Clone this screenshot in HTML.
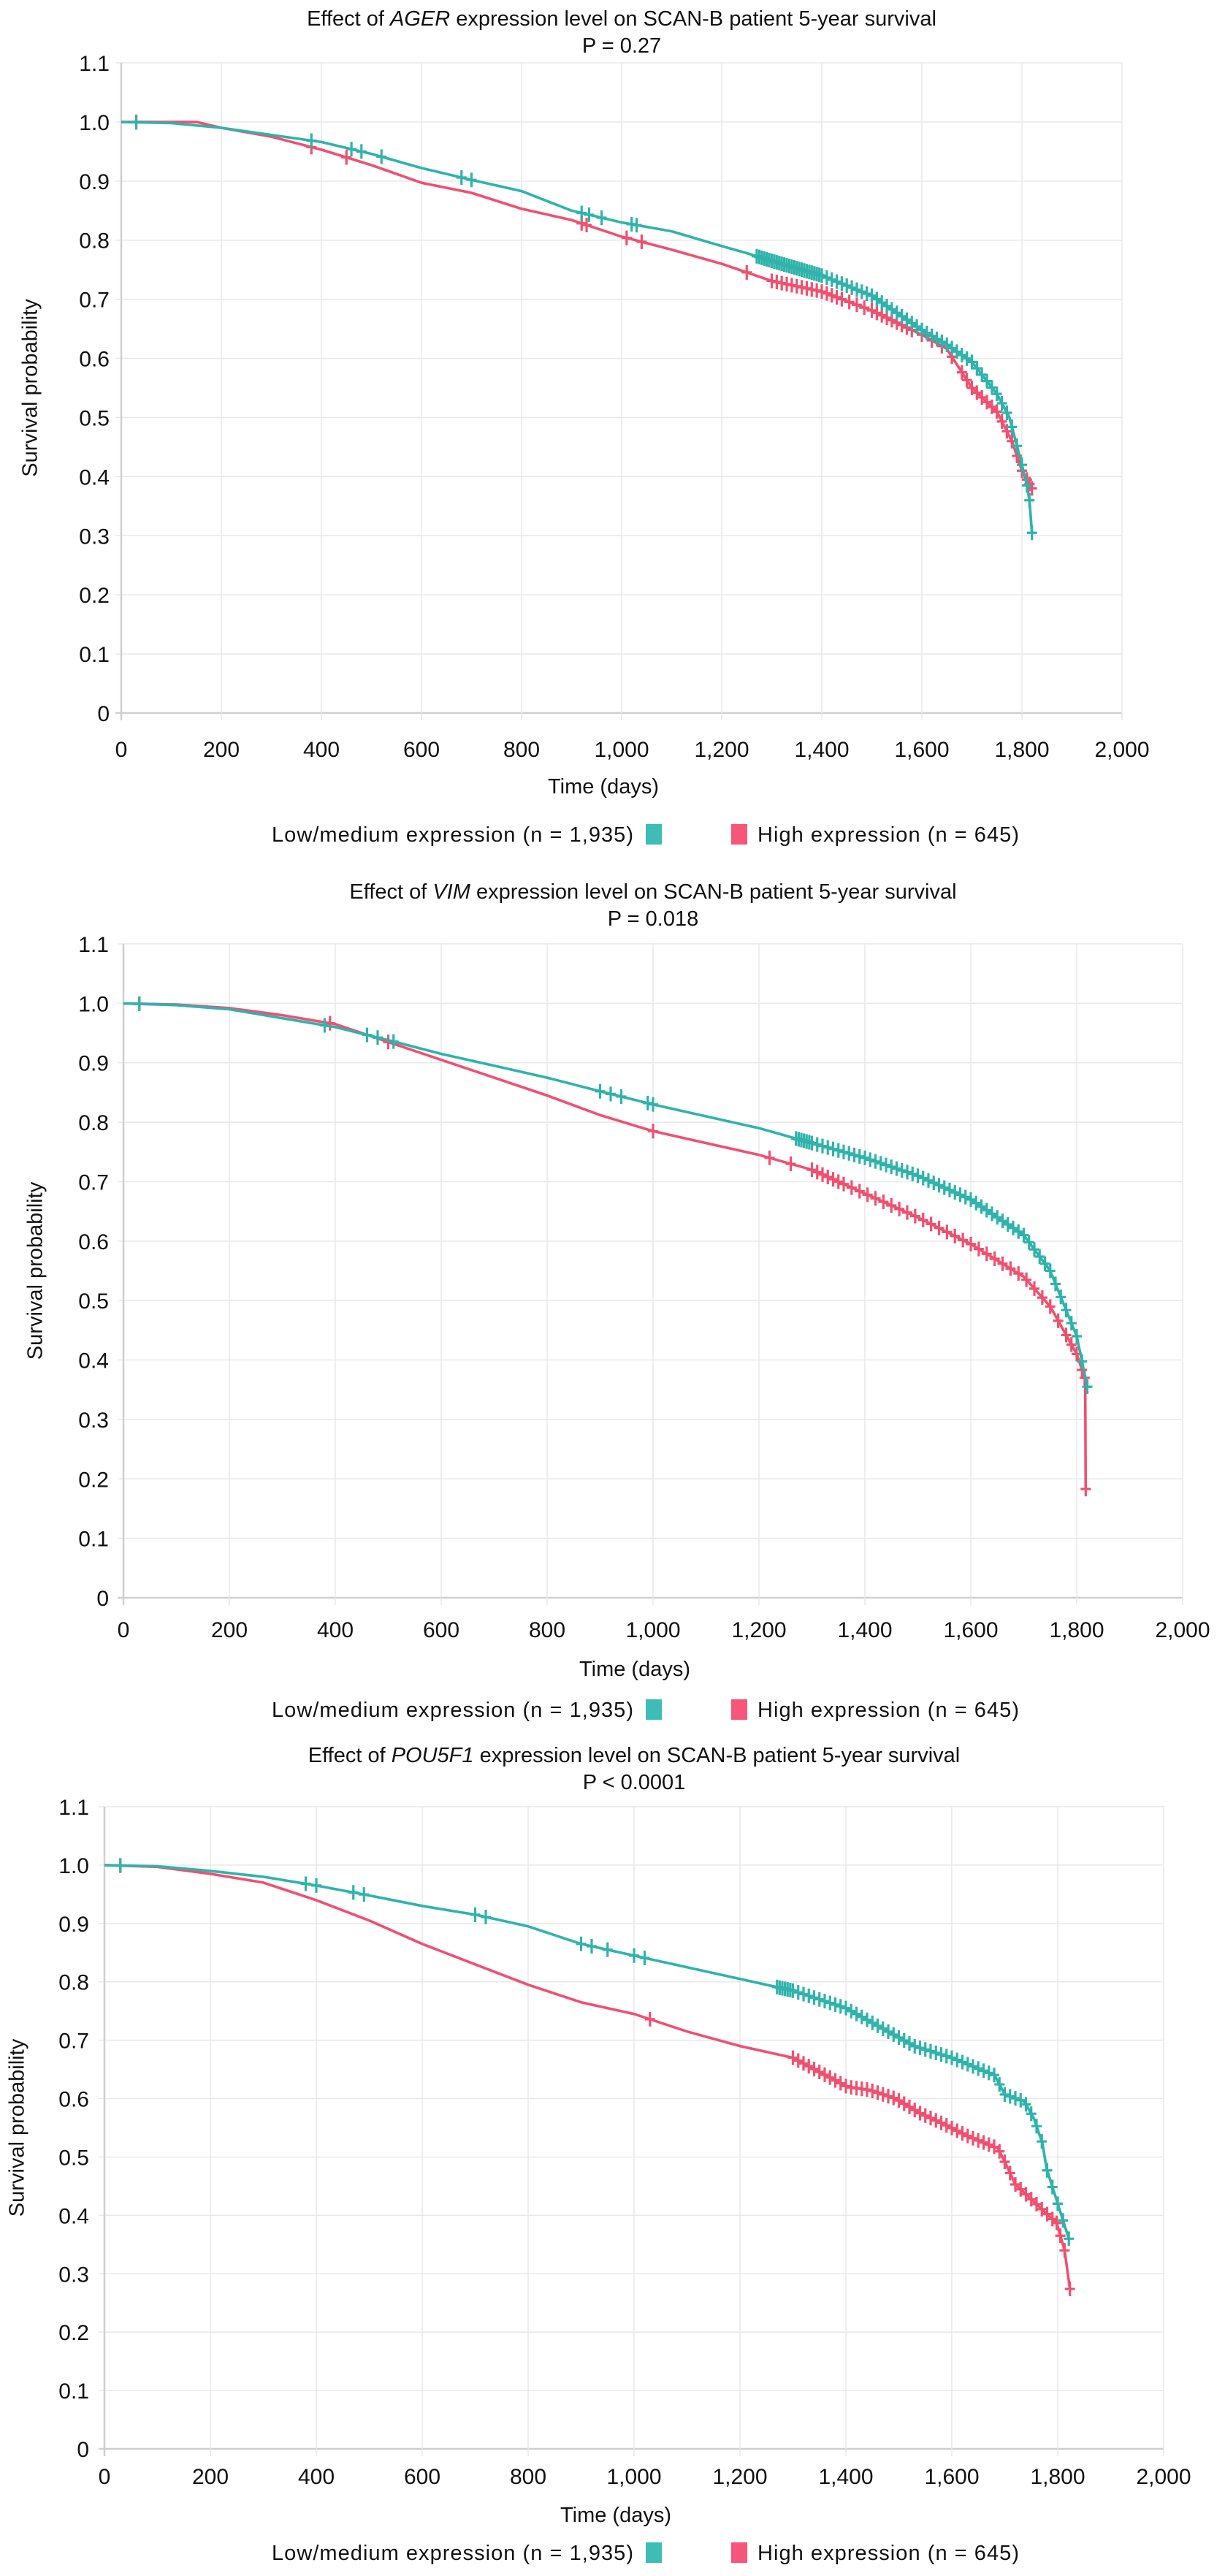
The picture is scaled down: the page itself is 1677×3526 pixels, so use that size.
<!DOCTYPE html>
<html><head><meta charset="utf-8"><style>
html,body{margin:0;padding:0;background:#fff;}
svg{display:block;font-family:"Liberation Sans",Arial,sans-serif;}
</style></head><body>
<svg id="fig" width="1677" height="3526" viewBox="0 0 1677 3526" xmlns="http://www.w3.org/2000/svg"></svg>
<script>
// ---------- data ----------
const xTicks = [0,200,400,600,800,1000,1200,1400,1600,1800,2000];
const xTickLabels = ["0","200","400","600","800","1,000","1,200","1,400","1,600","1,800","2,000"];
const yTicks = [0,0.1,0.2,0.3,0.4,0.5,0.6,0.7,0.8,0.9,1.0,1.1];
const yTickLabels = ["0","0.1","0.2","0.3","0.4","0.5","0.6","0.7","0.8","0.9","1.0","1.1"];

// AGER
const agerLowT = [0,100,200,300,400,500,600,700,800,900,1000,1100,1200,1250,1300,1400,1500,1600,1650,1700,1750,1775,1800,1810,1815,1820];
const agerLowS = [1.0,0.998,0.99,0.978,0.966,0.946,0.922,0.902,0.883,0.85,0.83,0.815,0.79,0.778,0.765,0.74,0.706,0.648,0.623,0.594,0.54,0.5,0.42,0.385,0.36,0.305];
const agerHighT = [0,150,200,300,400,500,600,700,800,900,1000,1100,1200,1300,1400,1500,1600,1650,1700,1750,1780,1800,1820];
const agerHighS = [1.0,1.0,0.99,0.975,0.953,0.927,0.897,0.88,0.853,0.834,0.806,0.784,0.76,0.731,0.713,0.681,0.64,0.616,0.55,0.51,0.46,0.41,0.38];
const agerLowC = [30,380,460,480,520,680,700,920,935,960,1020,1030,1270,1275,1280,1285,1290,1295,1300,1305,1310,1315,1320,1325,1330,1335,1340,1345,1350,1355,1360,1365,1370,1375,1380,1385,1390,1395,1400,1410,1420,1430,1440,1450,1460,1470,1480,1490,1500,1510,1520,1530,1540,1550,1560,1570,1580,1590,1600,1610,1620,1630,1640,1650,1660,1670,1680,1690,1700,1710,1720,1730,1740,1750,1760,1770,1780,1790,1800,1810,1815,1820];
const agerHighC = [30,380,450,920,930,1010,1040,1250,1300,1310,1320,1330,1340,1350,1360,1370,1380,1390,1400,1410,1420,1430,1440,1455,1470,1485,1500,1510,1520,1530,1540,1550,1560,1570,1580,1600,1620,1640,1660,1680,1690,1700,1710,1720,1730,1740,1750,1760,1770,1780,1790,1800,1810,1815,1820];

// VIM
const vimLowT = [0,100,200,300,400,500,600,700,800,900,1000,1100,1200,1300,1400,1500,1600,1700,1750,1800,1820];
const vimLowS = [1.0,0.997,0.99,0.975,0.96,0.938,0.915,0.895,0.875,0.852,0.83,0.81,0.79,0.765,0.74,0.71,0.67,0.61,0.55,0.44,0.355];
const vimHighT = [0,100,200,300,400,500,600,700,800,900,1000,1100,1200,1300,1400,1500,1600,1700,1750,1800,1815,1816,1817];
const vimHighS = [1.0,0.998,0.992,0.98,0.965,0.935,0.905,0.875,0.845,0.812,0.785,0.765,0.745,0.72,0.68,0.64,0.595,0.54,0.49,0.41,0.37,0.37,0.183];
const vimLowC = [30,380,460,480,510,900,920,940,990,1000,1270,1275,1280,1285,1290,1295,1300,1310,1320,1330,1340,1350,1360,1370,1380,1390,1400,1410,1420,1430,1440,1450,1460,1470,1480,1490,1500,1510,1520,1530,1540,1550,1560,1570,1580,1590,1600,1610,1620,1630,1640,1650,1660,1670,1680,1690,1700,1710,1720,1730,1740,1750,1760,1770,1780,1790,1800,1810,1820];
const vimHighC = [30,390,500,1000,1220,1260,1300,1310,1320,1330,1340,1350,1360,1375,1390,1405,1420,1435,1450,1465,1480,1495,1510,1525,1540,1555,1570,1585,1600,1615,1630,1645,1660,1675,1690,1705,1720,1735,1750,1765,1780,1790,1800,1810,1815,1817];

// POU5F1
const pouLowT = [0,100,200,300,400,500,600,700,800,900,1000,1100,1200,1300,1400,1529,1600,1681,1700,1737,1755,1771,1779,1807,1821];
const pouLowS = [1.0,0.998,0.99,0.98,0.965,0.948,0.93,0.915,0.895,0.865,0.845,0.825,0.805,0.785,0.755,0.69,0.67,0.64,0.607,0.595,0.566,0.524,0.48,0.40,0.36];
const pouHighT = [0,100,200,300,400,500,600,700,800,900,1000,1100,1200,1300,1403,1444,1494,1540,1586,1632,1687,1701,1720,1798,1813,1823];
const pouHighS = [1.0,0.997,0.985,0.97,0.94,0.905,0.865,0.83,0.795,0.765,0.745,0.715,0.69,0.67,0.62,0.615,0.60,0.575,0.556,0.535,0.515,0.49,0.453,0.387,0.34,0.274];
const pouLowC = [30,380,400,470,490,700,720,900,920,950,1000,1020,1270,1275,1280,1285,1290,1295,1300,1310,1320,1330,1340,1350,1360,1370,1380,1390,1400,1410,1420,1430,1440,1450,1460,1470,1480,1490,1500,1510,1520,1530,1540,1550,1560,1570,1580,1590,1600,1610,1620,1630,1640,1650,1660,1670,1680,1690,1700,1710,1720,1730,1740,1750,1760,1770,1780,1790,1800,1810,1821];
const pouHighC = [30,1030,1300,1310,1320,1330,1340,1350,1360,1370,1380,1390,1400,1410,1420,1430,1440,1450,1460,1470,1480,1490,1500,1510,1520,1530,1540,1550,1560,1570,1580,1590,1600,1610,1620,1630,1640,1650,1660,1670,1680,1690,1700,1710,1720,1730,1740,1750,1760,1770,1780,1790,1798,1805,1813,1823];

const TEAL = "#2fb3ab", RED = "#f0506f";
const NS = "http://www.w3.org/2000/svg";
const svg = document.getElementById('fig');

function mk(tag, attrs, parent){
  const e = document.createElementNS(NS, tag);
  for (const k in attrs) e.setAttribute(k, attrs[k]);
  (parent||svg).appendChild(e);
  return e;
}
function interp(T,S,t){
  if (t<=T[0]) return S[0];
  for (let i=1;i<T.length;i++){ if (t<=T[i]) return S[i-1]+(S[i]-S[i-1])*(t-T[i-1])/(T[i]-T[i-1]); }
  return S[S.length-1];
}

const panels = [
  {gene:"AGER", p:"P = 0.27", x0:166, x1:1536, yTop:86, y0:976, tickRight:150, yTitleX:43, title1:25, title2:62, xlab:1025, xtitle:1076, legend:1142,
   low:[agerLowT,agerLowS,agerLowC], high:[agerHighT,agerHighS,agerHighC]},
  {gene:"VIM", p:"P = 0.018", x0:169, x1:1619, yTop:1292, y0:2187, tickRight:149, yTitleX:50, title1:1220, title2:1257, xlab:2230, xtitle:2284, legend:2340,
   low:[vimLowT,vimLowS,vimLowC], high:[vimHighT,vimHighS,vimHighC]},
  {gene:"POU5F1", p:"P < 0.0001", x0:143, x1:1593, yTop:2473, y0:3352, tickRight:122, yTitleX:25, title1:2402, title2:2439, xlab:3389, xtitle:3442, legend:3494,
   low:[pouLowT,pouLowS,pouLowC], high:[pouHighT,pouHighS,pouHighC]}
];

panels.forEach((P, pi) => {
  const g = mk('g', {});
  
  
  const xs = t => P.x0 + (P.x1-P.x0)*t/2000;
  const ys = v => P.y0 - (P.y0-P.yTop)*v/1.1;
  const cx = (P.x0+P.x1)/2;

  const t1 = mk('text', {x:cx, y:P.title1+10, 'text-anchor':'middle', 'font-size':29, fill:'#111'}, g);
  
  
  t1.innerHTML = 'Effect of <tspan font-style="italic">' + P.gene + '</tspan> expression level on SCAN-B patient 5-year survival';
  const t2 = mk('text', {x:cx, y:P.title2+10, 'text-anchor':'middle', 'font-size':29, fill:'#111'}, g);
  
  
  t2.textContent = P.p;

  yTicks.forEach((v,i) => {
    const l = mk('line', {x1:P.x0-8, x2:P.x1, y1:ys(v), y2:ys(v), stroke: i===0?'#cfcfcf':'#e8e8e8', 'stroke-width': i===0?2.5:1.5}, g);
    
    
    const tx = mk('text', {x:P.tickRight, y:ys(v)+11, 'text-anchor':'end', 'font-size':30, fill:'#111'}, g);
    
    
    tx.textContent = yTickLabels[i];
  });
  xTicks.forEach((t,i) => {
    const l = mk('line', {x1:xs(t), x2:xs(t), y1:P.yTop, y2:P.y0+10, stroke: i===0?'#cfcfcf':'#e8e8e8', 'stroke-width': i===0?2.5:1.5}, g);
    
    
    const tx = mk('text', {x:xs(t), y:P.xlab+11, 'text-anchor':'middle', 'font-size':30, fill:'#111'}, g);
    
    
    tx.textContent = xTickLabels[i];
  });

  const xt = mk('text', {x:cx - 25, y:P.xtitle+10, 'text-anchor':'middle', 'font-size':29, fill:'#111'}, g);
  
  
  xt.textContent = 'Time (days)';
  const ym = (P.yTop+P.y0)/2;
  const yt = mk('text', {x:P.yTitleX, y:ym, 'text-anchor':'middle', 'font-size':29, fill:'#111', transform:'rotate(-90 '+P.yTitleX+' '+ym+')', 'dominant-baseline':'middle'}, g);
  
  
  yt.textContent = 'Survival probability';

  [[P.high, RED, 'high'], [P.low, TEAL, 'low']].forEach(([ser, col, nm]) => {
    const [T,S,C] = ser;
    let d = '';
    T.forEach((t,i) => { d += (i?'L':'M') + xs(t).toFixed(1) + ',' + ys(S[i]).toFixed(1); });
    const path = mk('path', {d:d, fill:'none', stroke:col, 'stroke-width':3.6, 'stroke-linejoin':'round'}, g);
    
    
    C.forEach(t => {
      const x = xs(t), y = ys(interp(T,S,t));
      const m = mk('path', {d:'M'+(x-7)+','+y+'h14M'+x+','+(y-10)+'v20', stroke:col, 'stroke-width':3.2, fill:'none'}, g);
      
      
    });
  });

  const lg = mk('g', {}, g);
  
  
  const l1 = mk('text', {x:372, y:P.legend+10, 'font-size':29, fill:'#111', textLength:495}, lg);
  
  
  l1.textContent = 'Low/medium expression (n = 1,935)';
  const s1 = mk('rect', {x:884, y:P.legend-14, width:22, height:28, fill:'#3dbdb5'}, lg);
  
  
  const s2 = mk('rect', {x:1001, y:P.legend-14, width:22, height:28, fill:'#f5567a'}, lg);
  
  
  const l2 = mk('text', {x:1037, y:P.legend+10, 'font-size':29, fill:'#111', textLength:358}, lg);
  
  
  l2.textContent = 'High expression (n = 645)';
});
</script>
</body></html>
